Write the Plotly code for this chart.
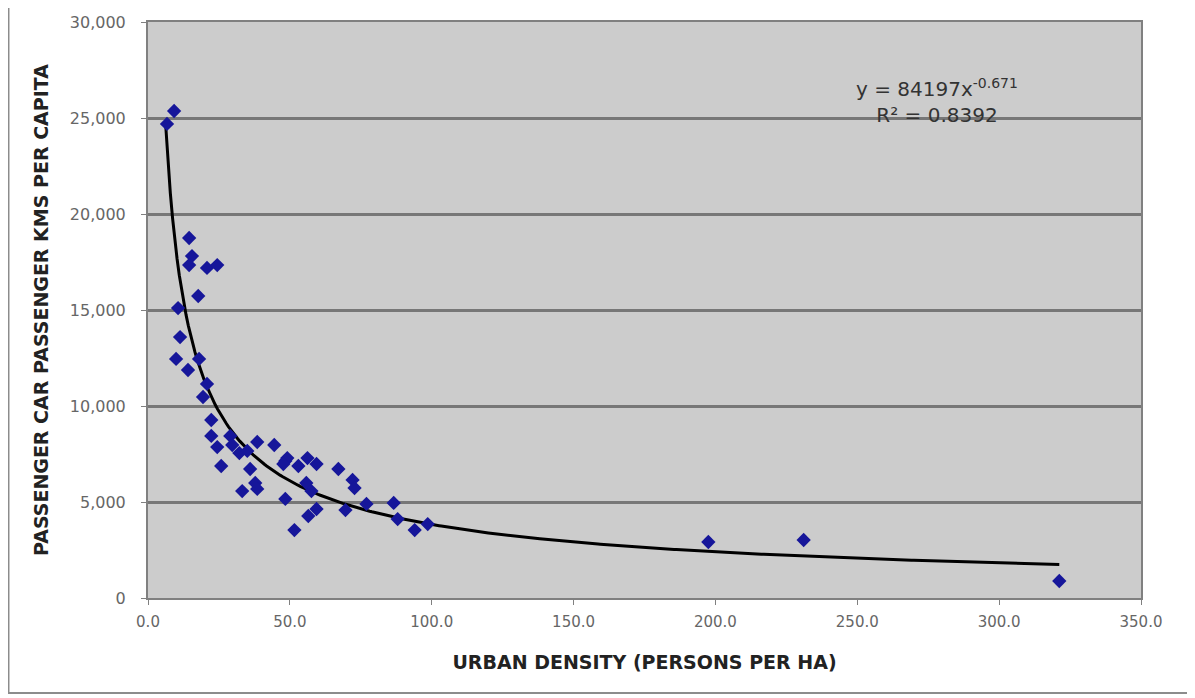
import numpy as np
import plotly.graph_objects as go

# Urban density (persons per ha)
density = [6.7, 9.2, 14.5, 15.5, 14.5, 20.8, 24.4, 17.7, 10.6, 11.3,
           9.9, 18.0, 14.1, 20.8, 19.4, 22.3, 22.3, 24.4, 25.8, 29.0,
           29.7, 32.2, 35.0, 36.0, 38.5, 44.5, 37.8, 38.5, 33.2, 48.4,
           49.1, 47.7, 53.0, 56.2, 59.4, 55.8, 57.6, 48.4, 59.4, 56.5,
           51.6, 67.1, 72.1, 72.8, 69.6, 77.0, 86.6, 88.0, 94.0, 98.6,
           197.5, 231.1, 321.2]
# Passenger car passenger kms per capita
car_km = [24690, 25365, 18750, 17810, 17340, 17190, 17340, 15730, 15100, 13590,
          12450, 12450, 11875, 11150, 10470, 9270, 8440, 7860, 6875, 8440,
          7970, 7550, 7660, 6720, 8125, 7970, 5990, 5680, 5570, 7140,
          7290, 6980, 6875, 7290, 6980, 5990, 5570, 5160, 4635, 4270,
          3540, 6720, 6150, 5730, 4580, 4900, 4950, 4110, 3540, 3850,
          2917, 3020, 885]

# Power trendline as printed on the chart
fit_a = 84197
fit_b = -0.671
fit_r2 = 0.8392

y_ticks = [0, 5000, 10000, 15000, 20000, 25000, 30000]
x_ticks = [0, 50, 100, 150, 200, 250, 300, 350]

xs = np.linspace(min(density) * 0.94, max(density), 400)
ys = fit_a * xs ** fit_b

fig = go.Figure()
fig.add_trace(go.Scatter(x=xs, y=ys, mode="lines",
                         line=dict(color="#000000", width=3),
                         hoverinfo="skip", showlegend=False))
fig.add_trace(go.Scatter(x=density, y=car_km, mode="markers",
                         marker=dict(symbol="diamond", size=11, color="#16169a",
                                     line=dict(width=0)),
                         showlegend=False))

fig.add_annotation(x=0.795, y=0.862, xref="paper", yref="paper",
                   xanchor="center", yanchor="middle",
                   text=f"y = {fit_a}x<sup>{fit_b}</sup><br>R² = {fit_r2}",
                   showarrow=False, align="center",
                   font=dict(family="DejaVu Sans", size=20, color="#333333"))

fig.add_shape(type="rect", xref="paper", yref="paper",
              x0=-0.1405, x1=1.0524, y0=-0.165, y1=1.026,
              line=dict(color="#8c8c8c", width=2), fillcolor="rgba(0,0,0,0)",
              layer="below")

fig.update_layout(
    width=1187, height=690,
    margin=dict(l=140, r=54, t=14, b=100, autoexpand=False),
    paper_bgcolor="#ffffff",
    plot_bgcolor="#cccccc",
    font=dict(family="DejaVu Sans", color="#666666"),
    xaxis=dict(range=[0, 350], tickvals=x_ticks,
               ticktext=[f"{v:.1f}" for v in x_ticks],
               showgrid=False, zeroline=False, automargin=False,
               showline=True, linecolor="#808080", linewidth=2, mirror=True,
               ticks="outside", ticklen=5, tickcolor="#808080",
               ticklabelstandoff=4,
               tickfont=dict(size=15, color="#666666"),
               title=dict(text="<b>URBAN DENSITY (PERSONS PER HA)</b>",
                          font=dict(size=19, color="#222222"), standoff=26)),
    yaxis=dict(range=[0, 30000], tickvals=y_ticks,
               ticktext=[f"{v:,}" for v in y_ticks],
               showgrid=True, gridcolor="#777777", gridwidth=3,
               zeroline=False, automargin=False,
               showline=True, linecolor="#808080", linewidth=2, mirror=True,
               ticks="outside", ticklen=5, tickcolor="#808080",
               ticklabelstandoff=12,
               tickfont=dict(size=16, color="#666666"),
               title=dict(text="<b>PASSENGER CAR PASSENGER KMS PER CAPITA</b>",
                          font=dict(size=19, color="#222222"), standoff=16)),
)

fig.write_html("out.html")
